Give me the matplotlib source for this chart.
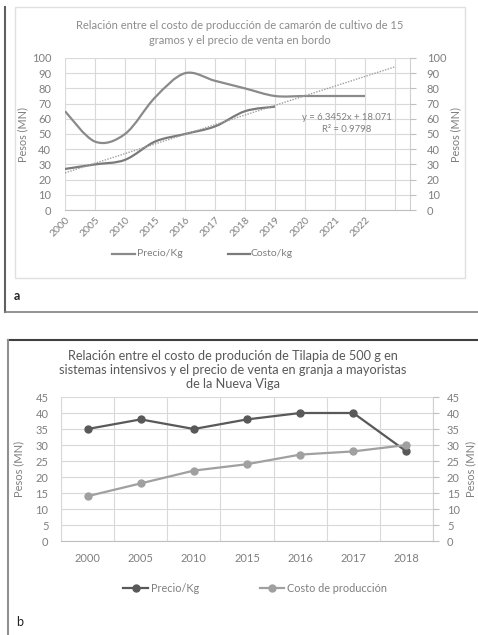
import numpy as np
import matplotlib
matplotlib.use("Agg")
import matplotlib.pyplot as plt
from matplotlib.path import Path
from matplotlib.patches import PathPatch, Rectangle
from matplotlib.lines import Line2D

plt.rcParams['font.family'] = ['Lato', 'DejaVu Sans']

# --- datos panel a (camarón) ---
anios_a = ['2000', '2005', '2010', '2015', '2016', '2017', '2018', '2019', '2020', '2021', '2022']
precio_a = [65, 45, 50, 74, 90, 85, 80, 75, 75, 75, 75]
costo_a = [27, 30, 33, 45, 50, 55, 65, 68]
pendiente, intercepto = 6.3452, 18.071
n_trend = 12

# --- datos panel b (tilapia) ---
anios_b = ['2000', '2005', '2010', '2015', '2016', '2017', '2018']
precio_b = [35, 38, 35, 38, 40, 40, 28]
costo_b = [14, 18, 22, 24, 27, 28, 30]

W, H = 478, 635
fig = plt.figure(figsize=(W / 100, H / 100), dpi=100)
txt = '#7f7f7f'
grid = '#d9d9d9'


def fx(px):
    return px / W


def fy(py):
    return 1 - py / H


def curva_suave(ax, xs, ys, color, lw):
    # suavizado tipo Excel (Catmull-Rom -> Bezier)
    pts = np.column_stack([np.asarray(xs, float), np.asarray(ys, float)])
    verts = [pts[0]]
    codes = [Path.MOVETO]
    n = len(pts)
    for i in range(n - 1):
        p0 = pts[i - 1] if i > 0 else pts[i]
        p1 = pts[i]
        p2 = pts[i + 1]
        p3 = pts[i + 2] if i + 2 < n else pts[i + 1]
        verts += [p1 + (p2 - p0) / 6, p2 - (p3 - p1) / 6, p2]
        codes += [Path.CURVE4] * 3
    ax.add_patch(PathPatch(Path(verts, codes), fill=False, edgecolor=color, lw=lw))


# marcos
fig.add_artist(Rectangle((fx(15), fy(278)), fx(465 - 15), (278 - 7) / H, fill=False,
                         edgecolor='#e0e0e0', lw=1, transform=fig.transFigure))
fig.add_artist(Line2D([fx(5), fx(5)], [fy(7), fy(312)], color='#606060', lw=1.5))
fig.add_artist(Line2D([fx(5), 1], [fy(312), fy(312)], color='#808080', lw=1.2))
fig.add_artist(Line2D([fx(8), 1], [fy(340), fy(340)], color='#404040', lw=1.5))
fig.add_artist(Line2D([fx(8), fx(8)], [fy(340), 0], color='#909090', lw=1.5))

# ---------------- panel a ----------------
ax1 = fig.add_axes([fx(65), fy(210), fx(410 - 65), (210 - 58) / H])
xa = np.arange(1, len(anios_a) + 1)
curva_suave(ax1, xa, precio_a, '#8a8a8a', 1.6)
curva_suave(ax1, xa[:len(costo_a)], costo_a, '#7a7a7a', 1.6)
xt = np.array([1, n_trend])
ax1.plot(xt, pendiente * xt + intercepto, color='#a0a0a0', lw=1, ls=(0, (1, 1)))
ax1.set_xlim(1, 12.5)
ax1.set_ylim(0, 100)
ax1.set_yticks(range(0, 101, 10))
ax1.set_xticks(range(1, 13))
ax1.set_xticklabels(anios_a + [''], rotation=45, ha='right', va='top', rotation_mode='anchor')
ax1.grid(True, color=grid, lw=0.8)
ax1.set_axisbelow(True)
ax1.tick_params(axis='x', length=0, pad=4, labelsize=7.5, colors=txt)
ax1.tick_params(axis='y', length=0, pad=10, labelsize=8, colors=txt)
for s in ['top', 'left']:
    ax1.spines[s].set_visible(False)
ax1.spines['bottom'].set_color('#bfbfbf')
ax1.spines['right'].set_color('#d0d0d0')
ax1b = ax1.twinx()
ax1b.set_ylim(0, 100)
ax1b.set_yticks(range(0, 101, 10))
ax1b.tick_params(axis='y', length=4, pad=8, labelsize=8, colors=txt, color='#bfbfbf')
for s in ['top', 'left', 'bottom', 'right']:
    ax1b.spines[s].set_visible(False)
ax1.set_ylabel('Pesos (MN)', fontsize=7.8, color=txt)
ax1.yaxis.set_label_coords((28 - 65) / 345, 0.5)
ax1b.set_ylabel('Pesos (MN)', fontsize=7.8, color=txt, rotation=90)
ax1b.yaxis.set_label_coords((450 - 65) / 345, 0.5)
ax1.text(10.4, 57, 'y = 6.3452x + 18.071\nR² = 0.9798', ha='center', va='center',
         fontsize=6.8, color=txt, linespacing=1.4)
fig.text(fx(240), fy(33), 'Relación entre el costo de producción de camarón de cultivo de 15\n'
         'gramos y el precio de venta en bordo', ha='center', va='center',
         fontsize=8, color='#8c8c8c', linespacing=1.45)
fig.add_artist(Line2D([fx(112), fx(135)], [fy(254), fy(254)], color='#8a8a8a', lw=1.6))
fig.text(fx(137), fy(254), 'Precio/Kg', fontsize=7.5, color=txt, va='center')
fig.add_artist(Line2D([fx(228), fx(250)], [fy(254), fy(254)], color='#7a7a7a', lw=1.6))
fig.text(fx(251), fy(254), 'Costo/kg', fontsize=7.5, color=txt, va='center')
fig.text(fx(14), fy(296), 'a', fontsize=9, color='#222222', va='center', fontweight='bold')

# ---------------- panel b ----------------
ax2 = fig.add_axes([fx(61), fy(541), fx(433 - 61), (541 - 397) / H])
xb = np.arange(len(anios_b))
ax2.plot(xb, precio_b, color='#595959', lw=1.6, marker='o', ms=5)
ax2.plot(xb, costo_b, color='#a0a0a0', lw=1.6, marker='o', ms=5)
ax2.set_xlim(-0.5, len(anios_b) - 0.5)
ax2.set_ylim(0, 45)
ax2.set_yticks(range(0, 46, 5))
ax2.set_xticks(xb)
ax2.set_xticklabels(anios_b)
ax2.set_xticks(np.arange(-0.5, len(anios_b)), minor=True)
ax2.grid(True, which='minor', axis='x', color=grid, lw=0.8)
ax2.grid(True, which='major', axis='y', color=grid, lw=0.8)
ax2.set_axisbelow(True)
ax2.tick_params(axis='x', which='both', length=0, pad=9, labelsize=8, colors=txt)
ax2.tick_params(axis='y', length=0, pad=9, labelsize=8, colors=txt)
ax2.spines['top'].set_visible(False)
ax2.spines['left'].set_color(grid)
ax2.spines['bottom'].set_color('#bfbfbf')
ax2.spines['right'].set_color('#d0d0d0')
ax2b = ax2.twinx()
ax2b.set_ylim(0, 45)
ax2b.set_yticks(range(0, 46, 5))
ax2b.tick_params(axis='y', length=4, pad=6, labelsize=8, colors=txt, color='#bfbfbf')
for s in ['top', 'left', 'bottom', 'right']:
    ax2b.spines[s].set_visible(False)
ax2.set_ylabel('Pesos (MN)', fontsize=8, color=txt)
ax2.yaxis.set_label_coords((24 - 61) / 372, 0.5)
ax2b.set_ylabel('Pesos (MN)', fontsize=8, color=txt, rotation=90)
ax2b.yaxis.set_label_coords((465 - 61) / 372, 0.5)
fig.text(fx(233), fy(370), 'Relación entre el costo de produción de Tilapia de 500 g en\n'
         'sistemas intensivos y el precio de venta en granja a mayoristas\n'
         'de la Nueva Viga', ha='center', va='center', fontsize=9.2, color='#595959',
         linespacing=1.25)
fig.add_artist(Line2D([fx(123), fx(148)], [fy(588), fy(588)], color='#595959', lw=1.6))
fig.add_artist(Line2D([fx(135.5)], [fy(588)], color='#595959', marker='o', ms=5))
fig.text(fx(151), fy(588), 'Precio/Kg', fontsize=7.8, color=txt, va='center')
fig.add_artist(Line2D([fx(260), fx(284)], [fy(588), fy(588)], color='#a0a0a0', lw=1.6))
fig.add_artist(Line2D([fx(272)], [fy(588)], color='#a0a0a0', marker='o', ms=5))
fig.text(fx(287), fy(588), 'Costo de producción', fontsize=7.8, color=txt, va='center')
fig.text(fx(16), fy(622), 'b', fontsize=9, color='#222222', va='center')

fig.savefig('out.png', dpi=100)
